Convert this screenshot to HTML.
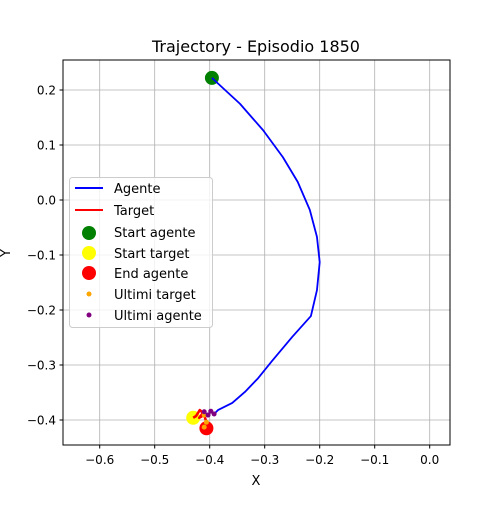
<!DOCTYPE html>
<html><head><meta charset="utf-8"><style>
body{margin:0;background:#fff}
svg{font-family:"DejaVu Sans","Liberation Sans",sans-serif}
</style></head><body>
<svg width="500" height="500">
<rect width="500" height="500" fill="#fff"/>
<text x="256" y="52" font-size="16" text-anchor="middle">Trajectory - Episodio 1850</text>
<g id="grid"></g>
<g id="series"></g>
<rect x="63" y="60" width="387" height="385" fill="none" stroke="#000" stroke-width="1"/>
<g id="ticks" font-size="12"></g>
<text x="256" y="485" font-size="13" text-anchor="middle">X</text>
<text x="10" y="253" font-size="13" text-anchor="middle" transform="rotate(-90 10 253)">Y</text>
<g>
<rect x="69.5" y="177.5" width="143" height="150" rx="3" fill="#fff" fill-opacity="0.8" stroke="#ccc"/>
<line x1="75" y1="188" x2="103" y2="188" stroke="blue" stroke-width="2"/><text x="114" y="193" font-size="13">Agente</text>
<line x1="75" y1="210" x2="103" y2="210" stroke="red" stroke-width="2"/><text x="114" y="215" font-size="13">Target</text>
<circle cx="89" cy="233" r="7" fill="green"/><text x="114" y="237" font-size="13">Start agente</text>
<circle cx="89" cy="253" r="7" fill="yellow"/><text x="114" y="258" font-size="13">Start target</text>
<circle cx="89" cy="273" r="7" fill="red"/><text x="114" y="278" font-size="13">End agente</text>
<circle cx="89" cy="294" r="2.5" fill="orange"/><text x="114" y="299" font-size="13">Ultimi target</text>
<circle cx="89" cy="315" r="2.5" fill="purple"/><text x="114" y="320" font-size="13">Ultimi agente</text>
</g>
</svg>
<script>
const xTicks=[-0.6,-0.5,-0.4,-0.3,-0.2,-0.1,0.0];
const yTicks=[0.2,0.1,0.0,-0.1,-0.2,-0.3,-0.4];
const agentX=[-0.396,-0.345,-0.303,-0.267,-0.240,-0.218,-0.205,-0.200,-0.205,-0.216,-0.250,-0.287,-0.312,-0.336,-0.359,-0.385,-0.392,-0.398,-0.403,-0.410];
const agentY=[0.222,0.175,0.127,0.078,0.033,-0.018,-0.067,-0.113,-0.164,-0.211,-0.249,-0.293,-0.324,-0.349,-0.369,-0.382,-0.389,-0.384,-0.391,-0.385];
const targetX=[-0.430,-0.425,-0.418,-0.412,-0.419,-0.410,-0.406,-0.410];
const targetY=[-0.396,-0.393,-0.382,-0.387,-0.396,-0.391,-0.404,-0.413];
const lastAgentX=[-0.392,-0.398,-0.403,-0.410];
const lastAgentY=[-0.389,-0.384,-0.391,-0.385];
const lastTargetX=[-0.410,-0.406,-0.410];
const lastTargetY=[-0.391,-0.404,-0.413];
const startAgent=[-0.396,0.222], startTarget=[-0.430,-0.396], endAgent=[-0.406,-0.415];
const sx=v=>429.7+v*550, sy=v=>200-v*550;
const NS="http://www.w3.org/2000/svg";
function mk(tag,attrs,parent){const e=document.createElementNS(NS,tag);for(const k in attrs)e.setAttribute(k,attrs[k]);parent.appendChild(e);return e;}
const grid=document.getElementById('grid'),ticks=document.getElementById('ticks'),ser=document.getElementById('series');
xTicks.forEach(t=>{const x=sx(t);
const g=mk('line',{x1:x,x2:x,y1:60,y2:445,stroke:'#b0b0b0','stroke-width':0.8},grid);


mk('line',{x1:x,x2:x,y1:445,y2:448.5,stroke:'#000'},ticks);
const l=mk('text',{x:x,y:464,'text-anchor':'middle'},ticks);l.textContent=(t===0?'0.0':t.toFixed(1).replace('-','\u2212'));

});
yTicks.forEach(t=>{const y=sy(t);
const g=mk('line',{x1:63,x2:450,y1:y,y2:y,stroke:'#b0b0b0','stroke-width':0.8},grid);


mk('line',{x1:59.5,x2:63,y1:y,y2:y,stroke:'#000'},ticks);
const l=mk('text',{x:56,y:y+4.5,'text-anchor':'end'},ticks);l.textContent=(t===0?'0.0':t.toFixed(1).replace('-','\u2212'));

});
function line(xs,ys,col,name,w){const p=mk('polyline',{points:xs.map((v,i)=>sx(v)+','+sy(ys[i])).join(' '),fill:'none',stroke:col,'stroke-width':w,'stroke-linejoin':'round'},ser);

}
function dot(x,y,r,col,name){const c=mk('circle',{cx:sx(x),cy:sy(y),r:r,fill:col},ser);

}
dot(startAgent[0],startAgent[1],7,'green','start-agent-point');
dot(startTarget[0],startTarget[1],7,'yellow','start-target-point');
line(agentX,agentY,'blue','agent-line',1.8);
line(targetX,targetY,'red','target-line',2.6);
dot(endAgent[0],endAgent[1],7,'red','end-agent-point');
lastTargetX.forEach((v,i)=>dot(v,lastTargetY[i],2.5,'orange','last-target-point'));
lastAgentX.forEach((v,i)=>dot(v,lastAgentY[i],2.5,'purple','last-agent-point'));
</script>
</body></html>
